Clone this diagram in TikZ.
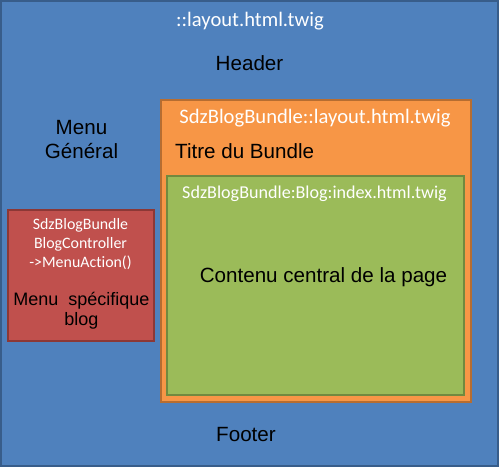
\documentclass[tikz,border=0pt]{standalone}
\usepackage{fontspec}
\setmainfont{Liberation Sans}
\newfontfamily\calfont[Ligatures=NoCommon]{Carlito}
\definecolor{bluefill}{HTML}{4F81BD}
\definecolor{blueline}{HTML}{385D8A}
\definecolor{orangefill}{HTML}{F79646}
\definecolor{orangeline}{HTML}{B66D31}
\definecolor{greenfill}{HTML}{9BBB59}
\definecolor{greenline}{HTML}{71893F}
\definecolor{redfill}{HTML}{C0504D}
\definecolor{redline}{HTML}{8C3836}
\tikzset{
  boxline/.style={line width=2pt},
  whitebig/.style={anchor=base, inner sep=0pt, text=white, font=\calfont\fontsize{20.6}{24}\selectfont},
  whitemid/.style={anchor=base, inner sep=0pt, text=white, font=\calfont\fontsize{18.1}{22}\selectfont},
  whitesmall/.style={anchor=base, inner sep=0pt, text=white, font=\calfont\fontsize{15.9}{19}\selectfont},
  blackbig/.style={anchor=base, inner sep=0pt, text=black, font=\fontsize{20.6}{24}\selectfont},
  blacksmall/.style={anchor=base, inner sep=0pt, text=black, font=\fontsize{18}{20}\selectfont},
}
\begin{document}
\begin{tikzpicture}[x=1pt,y=-1pt]
\useasboundingbox (0,0) rectangle (500,467);
% boxes
\draw[boxline, draw=blueline, fill=bluefill] (1,1) rectangle (497.5,465.8);
\draw[boxline, draw=orangeline, fill=orangefill] (161,100.3) rectangle (470.8,401.8);
\draw[boxline, draw=greenline, fill=greenfill] (167,176) rectangle (464.2,395.2);
\draw[boxline, draw=redline, fill=redfill] (8,210) rectangle (154,341);
% texts
\node[whitebig] (layout) at (250,26) {::layout.html.twig};
\node[blackbig] (header) at (249.5,70) {Header};
\node[blackbig] (menu1) at (81.5,134) {Menu};
\node[blackbig] (menu2) at (81.5,158.7) {Général};
\node[whitebig] (bundlelayout) at (315,123.3) {SdzBlogBundle::layout.html.twig};
\node[blackbig, anchor=base west] (titre) at (175,158.3) {Titre du Bundle};
\node[whitemid] (index) at (314.5,198) {SdzBlogBundle:Blog:index.html.twig};
\node[blackbig] (contenu) at (323.5,282.3) {Contenu central de la page};
\node[blackbig] (footer) at (246,441) {Footer};
\node[whitesmall] (r1) at (80.5,229) {SdzBlogBundle};
\node[whitesmall] (r2) at (80.5,248.3) {BlogController};
\node[whitesmall] (r3) at (80.5,267.7) {->MenuAction()};
\node[blacksmall] (r4) at (81.5,305.7) {Menu\hspace{10pt}spécifique};
\node[blacksmall] (r5) at (81.5,325.3) {blog};
\end{tikzpicture}
\end{document}
